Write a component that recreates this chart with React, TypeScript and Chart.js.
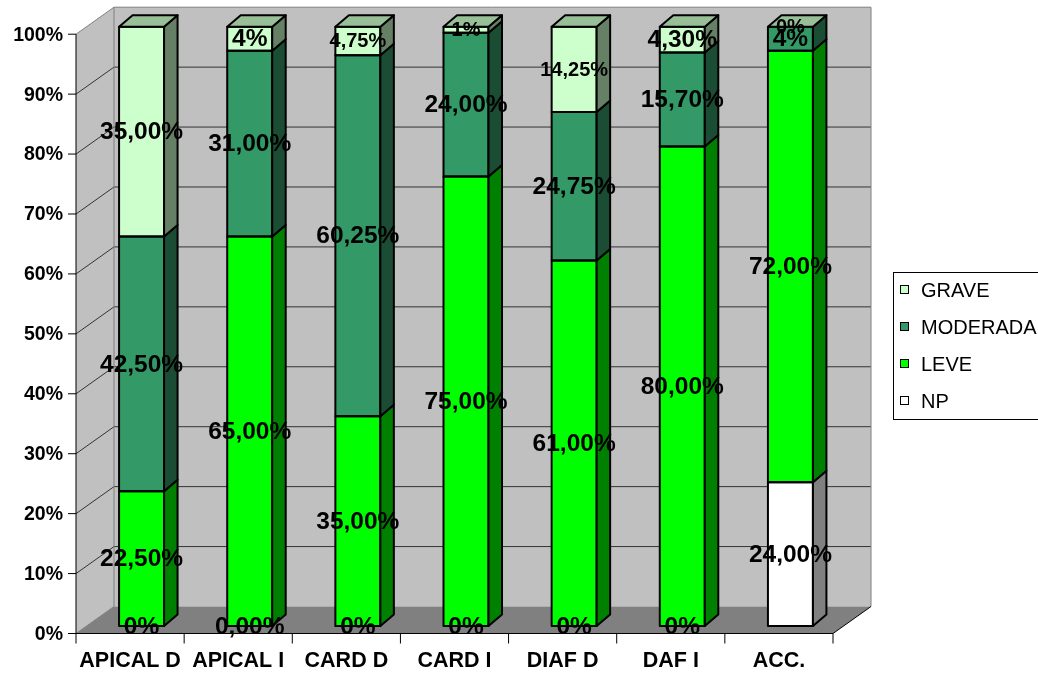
import { useEffect, useRef } from 'react';
import { Chart, registerables } from 'chart.js';

Chart.register(...registerables);

// ---- data ----
const categories = ['APICAL D', 'APICAL I', 'CARD D', 'CARD I', 'DIAF D', 'DAF I', 'ACC.'];
const seriesNames = ['NP', 'LEVE', 'MODERADA', 'GRAVE'];
const npValues = [0, 0, 0, 0, 0, 0, 24];
const leveValues = [22.5, 65, 35, 75, 61, 80, 72];
const moderadaValues = [42.5, 31, 60.25, 24, 24.75, 15.7, 4];
const graveValues = [35, 4, 4.75, 1, 14.25, 4.3, 0];
// decimals shown in each data label
const npDecimals = [0, 2, 0, 0, 0, 0, 2];
const leveDecimals = [2, 2, 2, 2, 2, 2, 2];
const moderadaDecimals = [2, 2, 2, 2, 2, 2, 0];
const graveDecimals = [2, 0, 2, 0, 2, 2, 0];
const yTickStep = 10;

// ---- styles ----
const FONT = '"Liberation Sans", Arial, Helvetica, sans-serif';
const seriesColors = ['#FFFFFF', '#00FF00', '#339966', '#CCFFCC'];
const LABEL_SIZE = 24.5;
const SMALL_LABEL_SIZE = 20;
// per-series label font sizes (by category)
const labelSizes = [
  [LABEL_SIZE, LABEL_SIZE, LABEL_SIZE, LABEL_SIZE, LABEL_SIZE, LABEL_SIZE, LABEL_SIZE],
  [LABEL_SIZE, LABEL_SIZE, LABEL_SIZE, LABEL_SIZE, LABEL_SIZE, LABEL_SIZE, LABEL_SIZE],
  [LABEL_SIZE, LABEL_SIZE, LABEL_SIZE, LABEL_SIZE, LABEL_SIZE, LABEL_SIZE, LABEL_SIZE],
  [LABEL_SIZE, LABEL_SIZE, SMALL_LABEL_SIZE, SMALL_LABEL_SIZE, SMALL_LABEL_SIZE, LABEL_SIZE, SMALL_LABEL_SIZE],
];

// oblique projection offsets, relative to the plane of the bar front faces
const BAR_DEPTH = { dx: 13.5, dy: -11.5 };
const WALL_BACK = { dx: 26.5, dy: -19.5 };
const WALL_FRONT = { dx: -11.5, dy: 7.5 };

const allValues = [npValues, leveValues, moderadaValues, graveValues];
const allDecimals = [npDecimals, leveDecimals, moderadaDecimals, graveDecimals];

function shade(hex: string, f: number): string {
  const n = parseInt(hex.slice(1), 16);
  const r = Math.round(((n >> 16) & 255) * f);
  const g = Math.round(((n >> 8) & 255) * f);
  const b = Math.round((n & 255) * f);
  return `rgb(${r},${g},${b})`;
}

const fmtPct = (v: number, d: number) => v.toFixed(d).replace('.', ',') + '%';

function poly(ctx: CanvasRenderingContext2D, pts: number[][]) {
  ctx.beginPath();
  ctx.moveTo(pts[0][0], pts[0][1]);
  for (let i = 1; i < pts.length; i++) ctx.lineTo(pts[i][0], pts[i][1]);
  ctx.closePath();
}

function line(ctx: CanvasRenderingContext2D, x1: number, y1: number, x2: number, y2: number) {
  ctx.beginPath();
  ctx.moveTo(x1, y1);
  ctx.lineTo(x2, y2);
  ctx.stroke();
}

// back wall, side wall, floor, gridlines and axis lines
const wallsPlugin = {
  id: 'walls3d',
  beforeDatasetsDraw(chart: any) {
    const { ctx, chartArea: a, scales } = chart;
    const y = scales.y;
    const x = scales.x;
    const fy = (v: number) => y.getPixelForValue(v) + WALL_FRONT.dy;
    const by = (v: number) => y.getPixelForValue(v) + WALL_BACK.dy;
    const fl = a.left + WALL_FRONT.dx;
    const fr = a.right + WALL_FRONT.dx;
    const bl = a.left + WALL_BACK.dx;
    const br = a.right + WALL_BACK.dx;
    const max = y.max;
    ctx.save();
    ctx.fillStyle = '#C0C0C0';
    ctx.fillRect(bl, by(max), br - bl, by(0) - by(max));
    poly(ctx, [[fl, fy(max)], [bl, by(max)], [bl, by(0)], [fl, fy(0)]]);
    ctx.fill();
    ctx.fillStyle = '#808080';
    poly(ctx, [[fl, fy(0)], [bl, by(0)], [br, by(0)], [fr, fy(0)]]);
    ctx.fill();

    // gridlines
    ctx.lineWidth = 1;
    ctx.strokeStyle = '#333333';
    for (let v = yTickStep; v < max; v += yTickStep) {
      line(ctx, bl, by(v), br, by(v));
      line(ctx, fl, fy(v), bl, by(v));
    }
    // wall edges
    ctx.strokeStyle = '#808080';
    line(ctx, fl, fy(max), bl, by(max));
    line(ctx, bl, by(max), br, by(max));
    line(ctx, br, by(max), br, by(0));
    line(ctx, bl, by(max), bl, by(0));
    line(ctx, fl, fy(0), bl, by(0));

    // axes
    ctx.strokeStyle = '#000000';
    line(ctx, fl, fy(max), fl, fy(0));
    line(ctx, fl, fy(0), fr, fy(0));
    line(ctx, fr, fy(0), br, by(0));
    for (let v = 0; v <= max; v += yTickStep) line(ctx, fl - 8, fy(v), fl, fy(v));
    for (let i = 0; i <= categories.length; i++) {
      const px = x.getPixelForValue(i - 0.5) + WALL_FRONT.dx;
      line(ctx, px, fy(0), px, fy(0) + 10);
    }
    ctx.restore();
  },
};

// bar outlines, side and top faces, and data labels
const barsPlugin = {
  id: 'bars3d',
  afterDatasetsDraw(chart: any) {
    const { ctx } = chart;
    const n = chart.data.datasets.length;
    const { dx, dy } = BAR_DEPTH;
    ctx.save();
    ctx.lineWidth = 2;
    ctx.lineJoin = 'round';
    ctx.strokeStyle = '#000000';
    for (let di = 0; di < n; di++) {
      const meta = chart.getDatasetMeta(di);
      meta.data.forEach((el: any) => {
        const p = el.getProps(['x', 'y', 'base', 'width'], true);
        const l = p.x - p.width / 2;
        const r = p.x + p.width / 2;
        const t = Math.min(p.y, p.base);
        const b = Math.max(p.y, p.base);
        if (b - t > 0.5) {
          ctx.strokeRect(l, t, r - l, b - t);
          ctx.fillStyle = shade(seriesColors[di], 0.5);
          poly(ctx, [[r, t], [r + dx, t + dy], [r + dx, b + dy], [r, b]]);
          ctx.fill();
          ctx.stroke();
        }
        if (di === n - 1) {
          ctx.fillStyle = shade(seriesColors[di], 0.75);
          poly(ctx, [[l, t], [l + dx, t + dy], [r + dx, t + dy], [r, t]]);
          ctx.fill();
          ctx.stroke();
        }
      });
    }
    ctx.fillStyle = '#000000';
    ctx.textAlign = 'center';
    ctx.textBaseline = 'middle';
    for (let di = 0; di < n; di++) {
      const meta = chart.getDatasetMeta(di);
      meta.data.forEach((el: any, i: number) => {
        const p = el.getProps(['x', 'y', 'base'], true);
        ctx.font = `bold ${labelSizes[di][i]}px ${FONT}`;
        ctx.fillText(fmtPct(allValues[di][i], allDecimals[di][i]), p.x, (p.y + p.base) / 2 + 1);
      });
    }
    ctx.restore();
  },
};

// legend box on the right, listed top series first
const legendPlugin = {
  id: 'legendBox',
  afterDraw(chart: any) {
    const { ctx } = chart;
    ctx.save();
    ctx.fillStyle = '#FFFFFF';
    ctx.strokeStyle = '#000000';
    ctx.lineWidth = 1;
    ctx.fillRect(893.5, 272.5, 160, 147);
    ctx.strokeRect(893.5, 272.5, 160, 147);
    ctx.font = `20px ${FONT}`;
    ctx.textAlign = 'left';
    ctx.textBaseline = 'middle';
    const order = [3, 2, 1, 0];
    order.forEach((di, k) => {
      const cy = 290 + k * 37;
      ctx.fillStyle = seriesColors[di];
      ctx.fillRect(900.5, cy - 4.5, 8, 8);
      ctx.strokeRect(900.5, cy - 4.5, 8, 8);
      ctx.fillStyle = '#000000';
      ctx.fillText(seriesNames[di], 921, cy + 1);
    });
    ctx.restore();
  },
};

export default function App() {
  const ref = useRef<HTMLCanvasElement>(null);

  useEffect(() => {
    if (!ref.current) return;
    const chart = new Chart(ref.current, {
      type: 'bar',
      data: {
        labels: categories,
        datasets: allValues.map((vals, di) => ({
          label: seriesNames[di],
          data: vals,
          backgroundColor: seriesColors[di],
          borderWidth: 0,
          barPercentage: 0.416,
          categoryPercentage: 1,
          stack: 'all',
        })),
      },
      options: {
        responsive: false,
        animation: false,
        devicePixelRatio: 1,
        layout: { padding: { left: 0, right: 193.5, top: 26.7, bottom: 0 } },
        plugins: {
          legend: { display: false },
          tooltip: { enabled: false },
        },
        scales: {
          x: {
            stacked: true,
            grid: { display: false, drawTicks: false },
            border: { display: false },
            ticks: {
              autoSkip: false,
              maxRotation: 0,
              minRotation: 0,
              labelOffset: WALL_FRONT.dx,
              padding: 22,
              color: '#000000',
              font: { family: FONT, size: 21.5, weight: 'bold' },
            },
            afterFit: (scale: any) => {
              scale.height = 49;
              scale.paddingLeft = 0;
              scale.paddingRight = 0;
            },
          },
          y: {
            stacked: true,
            min: 0,
            max: 100,
            grid: { display: false, drawTicks: false },
            border: { display: false },
            ticks: {
              stepSize: yTickStep,
              labelOffset: WALL_FRONT.dy + 1,
              padding: 24.5,
              color: '#000000',
              font: { family: FONT, size: 19.5, weight: 'bold' },
              callback: (v: any) => `${v}%`,
            },
            afterFit: (scale: any) => {
              scale.width = 87.5;
              scale.paddingTop = 0;
              scale.paddingBottom = 0;
            },
          },
        },
      },
      plugins: [wallsPlugin, barsPlugin, legendPlugin],
    });
    return () => chart.destroy();
  }, []);

  return (
    <div style={{ position: 'absolute', left: 0, top: 0, width: 1038, height: 675, background: '#FFFFFF' }}>
      <canvas ref={ref} width={1038} height={675} style={{ display: 'block' }} />
    </div>
  );
}
